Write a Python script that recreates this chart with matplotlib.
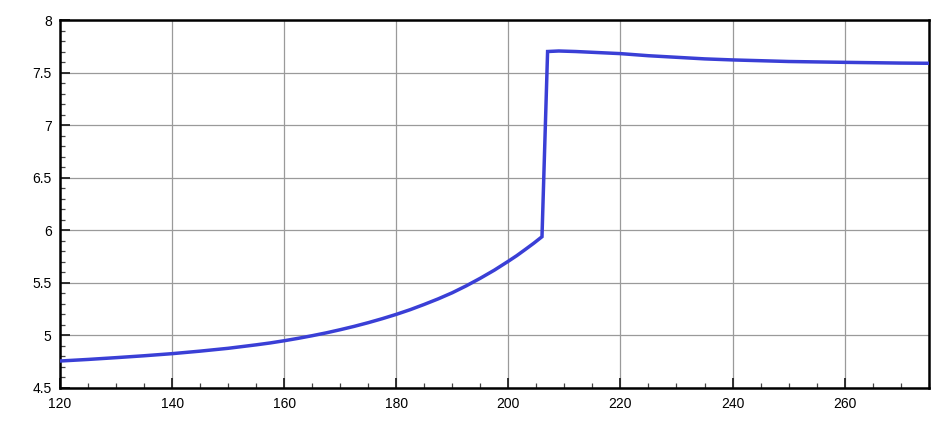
import matplotlib
matplotlib.use("Agg")
import matplotlib.pyplot as plt
from matplotlib.ticker import MultipleLocator

x_vals = [120, 125, 130, 135, 140, 145, 150, 155, 157.5, 160, 162.5, 165, 167.5,
          170, 172.5, 175, 177.5, 180, 182.5, 185, 187.5, 190, 192.5, 195, 197.5,
          200, 201.5, 203, 204.5, 206, 207, 209, 212, 216, 220, 225, 230, 235,
          240, 250, 260, 270, 275]
y_vals = [4.754, 4.769, 4.786, 4.804, 4.824, 4.848, 4.875, 4.908, 4.926, 4.947,
          4.970, 4.995, 5.022, 5.052, 5.084, 5.119, 5.157, 5.198, 5.243, 5.293,
          5.346, 5.404, 5.470, 5.542, 5.619, 5.704, 5.757, 5.815, 5.874, 5.937,
          7.70, 7.705, 7.70, 7.69, 7.68, 7.66, 7.645, 7.63, 7.62, 7.605, 7.597,
          7.59, 7.588]
x_ticks = [120, 140, 160, 180, 200, 220, 240, 260]
y_ticks = [4.5, 5, 5.5, 6, 6.5, 7, 7.5, 8]
y_tick_labels = ["4.5", "5", "5.5", "6", "6.5", "7", "7.5", "8"]

plt.rcParams['font.family'] = ['Liberation Sans', 'DejaVu Sans']

fig = plt.figure(figsize=(9.49, 4.28), dpi=100)
ax = fig.add_axes([60/949, 1 - 387.7/428, (928.7 - 60)/949, (387.7 - 20)/428])

ax.plot(x_vals, y_vals, color='#3a3fd6', linewidth=2.5, solid_joinstyle='miter', zorder=3)

ax.set_xlim(120, 275)
ax.set_ylim(4.5, 8)
ax.set_xticks(x_ticks)
ax.set_xticklabels([str(v) for v in x_ticks])
ax.set_yticks(y_ticks)
ax.set_yticklabels(y_tick_labels)
ax.xaxis.set_minor_locator(MultipleLocator(5))
ax.yaxis.set_minor_locator(MultipleLocator(0.1))

ax.grid(True, which='major', color='#9a9a9a', linewidth=0.9)
ax.tick_params(which='major', direction='in', length=7, width=1.3, color='#222222',
               labelsize=10, pad=6)
ax.tick_params(which='minor', direction='in', length=3.5, width=0.9, color='#444444')
ax.tick_params(axis='x', pad=7)

for s in ax.spines.values():
    s.set_linewidth(1.8)
    s.set_color('black')

fig.savefig('out.png', dpi=100)
